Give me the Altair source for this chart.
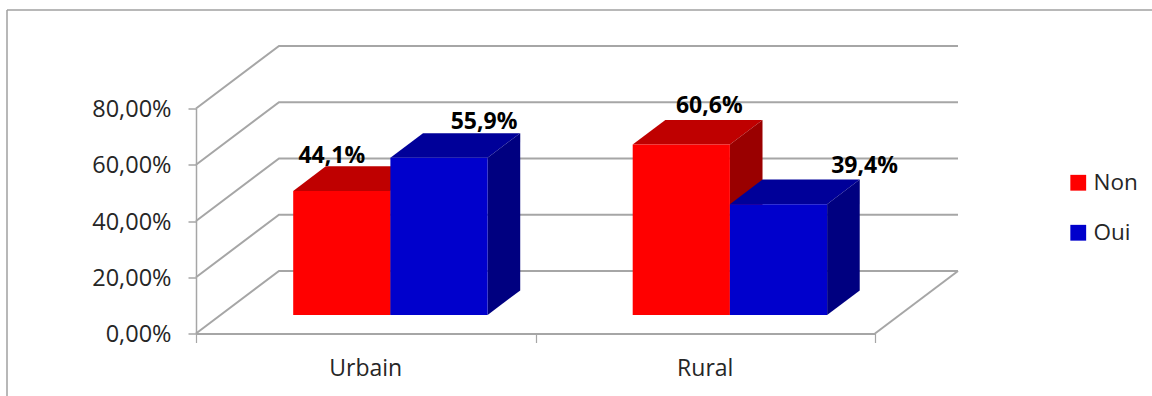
import altair as alt
import pandas as pd

# Survey shares by area, one list per answer
categories = ["Urbain", "Rural"]
series = ["Non", "Oui"]
non_values = [44.1, 60.6]
oui_values = [55.9, 39.4]
axis_ticks = [0, 20, 40, 60, 80]

FONT = "Open Sans"
GRID = "#a6a6a6"
TEXT = "#262626"
front_colors = {"Non": "#ff0000", "Oui": "#0000cc"}
top_colors = {"Non": "#bf0000", "Oui": "#000099"}
side_colors = {"Non": "#9a0000", "Oui": "#000080"}

# Oblique projection: a point at depth d (0 front, 1 back wall) shifts right and up
DEPTH_X = 83 / 339.5
DEPTH_Y = 62.5 / 2.8125
BAR_FRONT, BAR_BACK = 0.297, 0.69
BAR_W = 0.2863


def px(c, d):
    return c + d * DEPTH_X


def py(v, d):
    return v + d * DEPTH_Y


rows = []
for i, cat in enumerate(categories):
    for j, (name, vals) in enumerate(zip(series, [non_values, oui_values])):
        left = i + 0.5 - BAR_W + j * BAR_W
        rows.append({"cat": cat, "series": name, "value": vals[i], "left": left, "right": left + BAR_W})

front_rows, top_rows, side_rows = [], [], []
for r in rows:
    front_rows.append({
        "cat": r["cat"], "series": r["series"],
        "x": px(r["left"], BAR_FRONT), "x2": px(r["right"], BAR_FRONT),
        "y": py(0, BAR_FRONT), "y2": py(r["value"], BAR_FRONT),
    })
    for d in [BAR_FRONT, BAR_BACK]:
        top_rows.append({
            "cat": r["cat"], "series": r["series"],
            "x": px(r["left"], d), "x2": px(r["right"], d), "y": py(r["value"], d),
        })
        side_rows.append({
            "cat": r["cat"], "series": r["series"],
            "x": px(r["right"], d), "y": py(0, d), "y2": py(r["value"], d),
        })
fronts = pd.DataFrame(front_rows)
tops = pd.DataFrame(top_rows)
sides = pd.DataFrame(side_rows)

# Wall and floor lines, running from the front plane to the back wall
wall_rows = []
for level in axis_ticks:
    for k, (c, d) in enumerate([(0, 0), (0, 1), (2, 1)]):
        wall_rows.append({"level": level, "k": k, "x": px(c, d), "y": py(level, d)})
for k, d in enumerate([0, 1]):
    wall_rows.append({"level": -1, "k": k, "x": px(2, d), "y": py(0, d)})
walls = pd.DataFrame(wall_rows)

x_scale = alt.Scale(domain=[0, 2], nice=False, zero=False)
y_scale = alt.Scale(domain=[0, 80], nice=False, zero=False)
X = alt.X("x:Q", scale=x_scale, title=None, stack=None)
Y = alt.Y("y:Q", scale=y_scale, title=None, stack=None)

frame_top = alt.Chart().mark_rule(color="#a0a0a0", strokeWidth=1.5).encode(
    x=alt.value(-189), x2=alt.value(956), y=alt.value(-98.5)
)
frame_left = alt.Chart().mark_rule(color="#a0a0a0", strokeWidth=1.5).encode(
    x=alt.value(-189), y=alt.value(-98.5), y2=alt.value(287.5)
)

wall_lines = alt.Chart(walls).mark_line(color=GRID, strokeWidth=2).encode(
    x=alt.X(
        "x:Q", scale=x_scale, title=None,
        axis=alt.Axis(
            values=[0, 1, 2], labels=False, ticks=True, tickSize=9, tickColor=GRID, tickWidth=1.2,
            domainColor=GRID, domainWidth=2, grid=False, orient="bottom",
        ),
    ),
    y=alt.Y(
        "y:Q", scale=y_scale, title=None,
        axis=alt.Axis(
            values=axis_ticks, grid=False, tickSize=8, tickColor=GRID, tickWidth=1.5,
            domainColor=GRID, domainWidth=1.5, labelPadding=17, labelFont=FONT, labelFontSize=23.5,
            labelOffset=1, labelColor=TEXT,
            labelExpr="replace(format(datum.value, '.2f'), '.', ',') + '%'",
        ),
    ),
    detail="level:N",
    order="k:Q",
)

layers = [frame_top, frame_left, wall_lines]

for name in series:
    top = alt.Chart(tops[tops["series"] == name]).mark_area(
        orient="horizontal", color=top_colors[name]
    ).encode(x=X, x2="x2:Q", y=Y, detail="cat:N")
    side = alt.Chart(sides[sides["series"] == name]).mark_area(
        orient="vertical", color=side_colors[name]
    ).encode(x=X, y=Y, y2="y2:Q", detail="cat:N")
    front = alt.Chart(fronts[fronts["series"] == name]).mark_rect().encode(
        x=X,
        x2="x2:Q",
        y=Y,
        y2="y2:Q",
        color=alt.Color(
            "series:N",
            scale=alt.Scale(domain=series, range=[front_colors[s] for s in series]),
            legend=alt.Legend(
                title=None, orient="none", legendX=871, legendY=63, symbolType="square", symbolSize=250,
                symbolStrokeWidth=0, labelFont=FONT, labelFontSize=22.5, labelColor=TEXT, rowPadding=27,
                labelOffset=4,
            ),
        ),
    )
    layers += [top, side, front]

# Data labels sit above each bar, each with its own horizontal nudge
label_nudge = {("Urbain", "Non"): (-10, -35), ("Urbain", "Oui"): (45, -36),
               ("Rural", "Non"): (28, -39), ("Rural", "Oui"): (86, -38)}
for r in rows:
    dx, dy = label_nudge[(r["cat"], r["series"])]
    point = pd.DataFrame([{
        "x": px((r["left"] + r["right"]) / 2, BAR_FRONT),
        "y": py(r["value"], BAR_FRONT),
        "label": f"{r['value']:.1f}%".replace(".", ","),
    }])
    layers.append(
        alt.Chart(point).mark_text(
            font=FONT, fontSize=23, fontWeight="bold", color="#000000", dx=dx, dy=dy
        ).encode(x=X, y=Y, text="label:N")
    )

category_labels = alt.Chart(pd.DataFrame({"cat": categories, "x": [0.5, 1.5]})).mark_text(
    font=FONT, fontSize=23, color=TEXT
).encode(x=X, y=alt.value(260.5), text="cat:N")
layers.append(category_labels)

chart = alt.layer(*layers).resolve_scale(x="shared", y="shared").properties(
    width=679,
    height=225,
    padding={"left": 196, "top": 108.5, "right": 277, "bottom": 62.5},
    autosize=alt.AutoSizeParams(type="none"),
    background="#ffffff",
).configure_view(stroke=None)

chart.save("out.html", embed_options={"renderer": "svg", "actions": False})
